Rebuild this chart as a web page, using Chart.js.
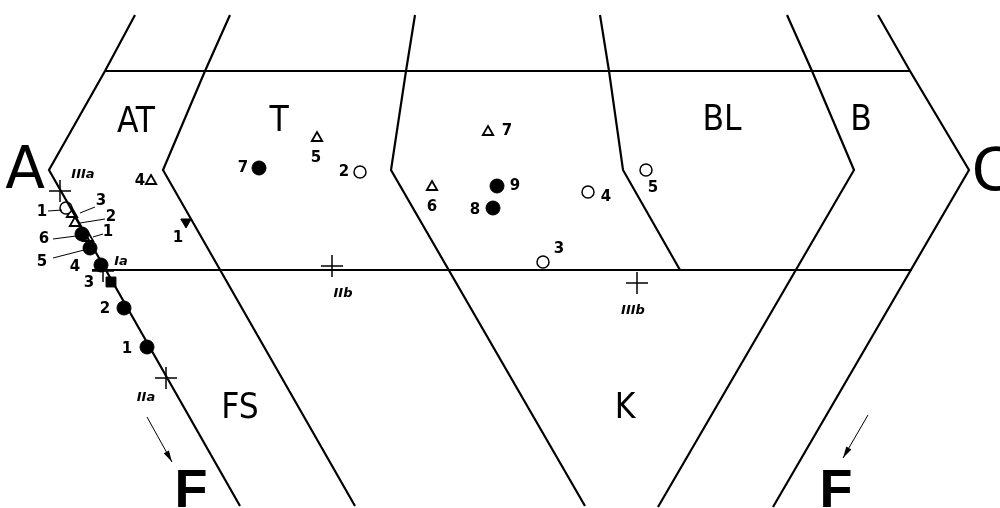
<!DOCTYPE html>
<html>
<head>
<meta charset="utf-8">
<script src="https://cdn.jsdelivr.net/npm/chart.js@4.4.1/dist/chart.umd.min.js"></script>
<style>
  html, body { margin: 0; padding: 0; background: #fff; }
  #wrap { width: 1000px; height: 508px; position: relative; }
</style>
</head>
<body>
<div id="wrap"><canvas id="chart"></canvas></div>
<script>
// field boundaries of the diagram (x, y in picture units, y grows downward)
const boundaryLines = [
  [[135, 15], [105, 71], [49, 170], [240, 506]],
  [[230, 15], [205, 71], [163, 170], [355, 506]],
  [[415, 15], [406, 71], [391, 170], [585, 506]],
  [[600, 15], [609, 71], [623, 170], [680, 270]],
  [[787, 15], [812, 71], [854, 170], [658, 507]],
  [[878, 15], [910, 71], [969, 170], [773, 507]],
  [[105, 71], [910, 71]],
  [[92, 270], [912, 270]]
];

// sample points
const filledCircles = [[259, 168], [497, 186], [493, 208], [82, 234], [90, 248], [101, 265], [124, 308], [147, 347]];
const openCircles = [[66, 208], [360, 172], [588, 192], [646, 170], [543, 262]];
const openTriangles = [[317, 138], [488, 132], [432, 187], [151, 181], [72, 214], [75, 223], [88, 238]];
const filledTrianglesDown = [[186, 222]];
const filledSquares = [[111, 282]];
const crosses = [[60, 191], [103, 271], [166, 378], [332, 266], [637, 283]];

// leader lines from numbers to points and the two direction arrows
const leaderLines = [
  [[48, 211], [62, 210]],
  [[95, 207], [80, 213]],
  [[105, 219], [80, 223]],
  [[53, 239], [76, 236]],
  [[103, 234], [93, 237]],
  [[53, 258], [84, 250]]
];
const arrows = [
  [[147, 417], [172, 462]],
  [[868, 415], [843, 458]]
];

// texts (x, y = centre of the text; big letters: y = baseline)
const bigLabels = [["A", 25, 188], ["C", 992, 190]];
const fieldLabels = [["AT", 136, 132], ["T", 279, 131], ["BL", 722, 130], ["B", 861, 130], ["FS", 240, 418], ["K", 625, 418]];
const directionLabels = [["F", 191, 507], ["F", 836, 507]];
const numberLabels = [
  ["7", 243, 168], ["5", 316, 158], ["2", 344, 172], ["7", 507, 131], ["6", 432, 207],
  ["9", 515, 186], ["8", 475, 210], ["4", 606, 197], ["5", 653, 188], ["3", 559, 249],
  ["4", 140, 181], ["1", 178, 238],
  ["1", 42, 212], ["3", 101, 201], ["2", 111, 217], ["6", 44, 239], ["1", 108, 232],
  ["5", 42, 262], ["4", 75, 267], ["3", 89, 283], ["2", 105, 309], ["1", 127, 349]
];
const crossLabels = [["IIIa", 83, 175], ["Ia", 121, 262], ["IIa", 146, 398], ["IIb", 343, 294], ["IIIb", 633, 311]];

const toXY = pts => pts.map(p => ({ x: p[0], y: p[1] }));

const datasets = [];
boundaryLines.forEach(l => datasets.push({
  type: 'line', data: toXY(l), borderColor: '#000', borderWidth: 2.2,
  pointRadius: 0, fill: false, tension: 0
}));
leaderLines.forEach(l => datasets.push({
  type: 'line', data: toXY(l), borderColor: '#000', borderWidth: 1,
  pointRadius: 0, fill: false
}));
arrows.forEach(l => datasets.push({
  type: 'line', data: toXY(l), borderColor: '#000', borderWidth: 1,
  pointRadius: 0, fill: false
}));
datasets.push({
  data: toXY(filledCircles), pointStyle: 'circle', pointRadius: 7,
  backgroundColor: '#000', borderColor: '#000', borderWidth: 1
});
datasets.push({
  data: toXY(openCircles), pointStyle: 'circle', pointRadius: 6,
  backgroundColor: '#fff', borderColor: '#000', borderWidth: 1.5
});
datasets.push({
  data: toXY(openTriangles), pointStyle: 'triangle', pointRadius: 6,
  backgroundColor: '#fff', borderColor: '#000', borderWidth: 1.8
});
datasets.push({
  data: toXY(filledTrianglesDown), pointStyle: 'triangle', pointRadius: 6, rotation: 180,
  backgroundColor: '#000', borderColor: '#000', borderWidth: 1
});
datasets.push({
  data: toXY(filledSquares), pointStyle: 'rect', pointRadius: 7,
  backgroundColor: '#000', borderColor: '#000', borderWidth: 1
});
datasets.push({
  data: toXY(crosses), pointStyle: 'cross', pointRadius: 11,
  backgroundColor: '#000', borderColor: '#000', borderWidth: 1.5
});

const textPlugin = {
  id: 'texts',
  afterDatasetsDraw(chart) {
    const ctx = chart.ctx;
    const sx = chart.scales.x, sy = chart.scales.y;
    ctx.save();
    ctx.fillStyle = '#000';
    ctx.textAlign = 'center';
    const put = (list, font) => {
      ctx.font = font;
      list.forEach(([t, x, y]) => ctx.fillText(t, sx.getPixelForValue(x), sy.getPixelForValue(y)));
    };
    ctx.textBaseline = 'alphabetic';
    put(bigLabels, '58px "DejaVu Sans"');
    put(fieldLabels, '35px "Liberation Sans Narrow", "DejaVu Sans Condensed", sans-serif');
    put(directionLabels, 'bold 54px "Liberation Sans Narrow", "Liberation Sans"');
    ctx.textBaseline = 'middle';
    put(numberLabels, 'bold 15px "DejaVu Sans"');
    put(crossLabels, 'italic bold 13px "DejaVu Sans"');

    // arrow heads
    arrows.forEach(a => {
      const x0 = sx.getPixelForValue(a[0][0]), y0 = sy.getPixelForValue(a[0][1]);
      const x1 = sx.getPixelForValue(a[1][0]), y1 = sy.getPixelForValue(a[1][1]);
      const ang = Math.atan2(y1 - y0, x1 - x0);
      ctx.beginPath();
      ctx.moveTo(x1, y1);
      ctx.lineTo(x1 - 12 * Math.cos(ang - 0.25), y1 - 12 * Math.sin(ang - 0.25));
      ctx.lineTo(x1 - 12 * Math.cos(ang + 0.25), y1 - 12 * Math.sin(ang + 0.25));
      ctx.closePath();
      ctx.fill();
    });
    ctx.restore();
  }
};

new Chart(document.getElementById('chart'), {
  type: 'scatter',
  data: { datasets },
  options: {
    responsive: true,
    maintainAspectRatio: false,
    animation: false,
    layout: { padding: 0, autoPadding: false },
    plugins: { legend: { display: false }, tooltip: { enabled: false } },
    scales: {
      x: { type: 'linear', min: 0, max: 1000, display: false },
      y: { type: 'linear', min: 0, max: 508, reverse: true, display: false }
    }
  },
  plugins: [textPlugin]
});
</script>
</body>
</html>
